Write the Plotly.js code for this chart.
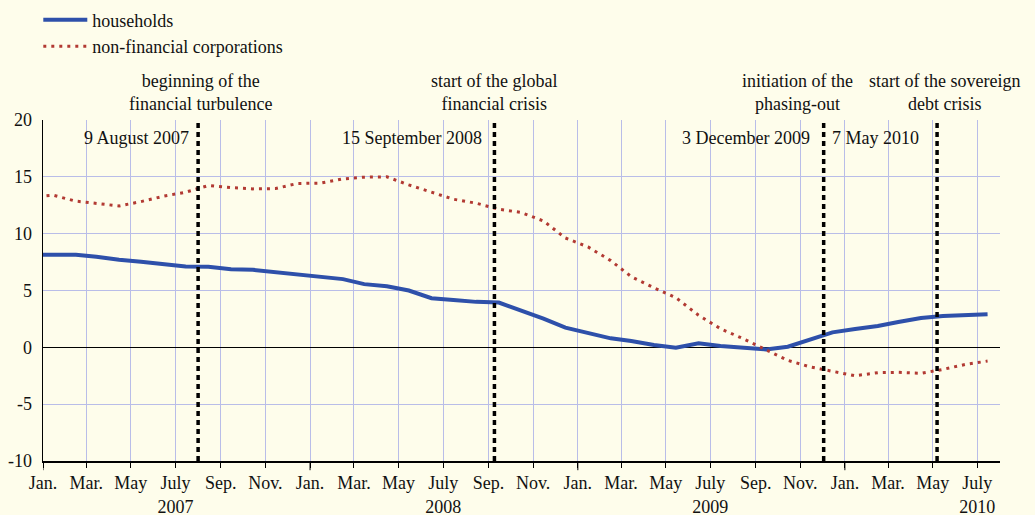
<!DOCTYPE html>
<html><head><meta charset="utf-8">
<script src="https://cdn.plot.ly/plotly-3.0.1.min.js"></script>
<style>html,body{margin:0;padding:0;background:#FEFDEB;}</style>
</head><body><div id="chart" style="width:1035px;height:515px;"></div>
<script>
// monthly observations (plotted at mid-month)
const months = ['2006-12-15',
 '2007-01-15','2007-02-15','2007-03-15','2007-04-15','2007-05-15','2007-06-15','2007-07-15','2007-08-15','2007-09-15','2007-10-15','2007-11-15','2007-12-15',
 '2008-01-15','2008-02-15','2008-03-15','2008-04-15','2008-05-15','2008-06-15','2008-07-15','2008-08-15','2008-09-15','2008-10-15','2008-11-15','2008-12-15',
 '2009-01-15','2009-02-15','2009-03-15','2009-04-15','2009-05-15','2009-06-15','2009-07-15','2009-08-15','2009-09-15','2009-10-15','2009-11-15','2009-12-15',
 '2010-01-15','2010-02-15','2010-03-15','2010-04-15','2010-05-15','2010-06-15','2010-07-15'];
const households = [8.15,
 8.15,8.15,7.97,7.70,7.53,7.29,7.11,7.08,6.88,6.82,6.62,6.38,
 6.18,6.00,5.56,5.38,5.00,4.32,4.17,4.00,3.94,3.25,2.52,1.73,
 1.29,0.79,0.55,0.20,-0.03,0.35,0.11,-0.03,-0.18,0.05,0.70,1.32,
 1.61,1.88,2.23,2.58,2.76,2.87,2.90];
const nonFinancialCorporations = [13.2,
 13.38,12.86,12.65,12.44,12.82,13.30,13.65,14.23,14.05,13.94,13.97,14.42,
 14.44,14.82,14.97,15.00,14.29,13.67,13.03,12.68,12.15,11.87,11.12,9.62,
 8.83,7.63,6.22,5.24,4.37,2.82,1.64,0.76,-0.18,-1.15,-1.73,-2.12,
 -2.50,-2.23,-2.20,-2.29,-1.94,-1.50,-1.21];

const tickVals = ['2007-01-01','2007-03-01','2007-05-01','2007-07-01','2007-09-01','2007-11-01',
 '2008-01-01','2008-03-01','2008-05-01','2008-07-01','2008-09-01','2008-11-01',
 '2009-01-01','2009-03-01','2009-05-01','2009-07-01','2009-09-01','2009-11-01',
 '2010-01-01','2010-03-01','2010-05-01','2010-07-01'];
const tickText = ['Jan.','Mar.','May','July<br>2007','Sep.','Nov.',
 'Jan.','Mar.','May','July<br>2008','Sep.','Nov.',
 'Jan.','Mar.','May','July<br>2009','Sep.','Nov.',
 'Jan.','Mar.','May','July<br>2010'];
const yTickVals = [-10,-5,0,5,10,15,20];
const yTickText = ['-10','-5','0','5','10','15','20'];

const eventDates = ['2007-08-01','2008-09-09','2009-12-03','2010-05-07'];
const eventTitles = ['beginning of the<br>financial turbulence','start of the global<br>financial crisis','initiation of the<br>phasing-out','start of the sovereign<br>debt crisis'];
const eventLabels = ['9 August 2007','15 September 2008','3 December 2009','7 May 2010'];

const FONT = "'Liberation Serif', 'Times New Roman', serif";
const BG = '#FEFDEB';
const GRID = '#B9BDE8';
const titleShift = [2, 0, -26, 7];
const labelShift = [-7, -10, -12, -16];
const txtFont = {family: FONT, size: 18, color: '#111'};

const traces = [
  {x: months, y: households, name: 'households', type: 'scatter', mode: 'lines',
   line: {color: '#2E50AA', width: 4}},
  {x: months, y: nonFinancialCorporations, name: 'non-financial corporations', type: 'scatter', mode: 'lines',
   line: {color: '#B23A33', width: 3, dash: '3px,5px'}}
];

const shapes = [];
eventDates.forEach(d => shapes.push({type: 'line', xref: 'x', yref: 'paper', x0: d, x1: d, y0: 0, y1: 1,
  line: {color: '#000', width: 3.5, dash: '5px,4px'}, layer: 'above'}));
tickVals.filter(t => t.endsWith('-01-01')).forEach(t => shapes.push({type: 'line', xref: 'x', yref: 'paper',
  x0: t, x1: t, y0: 0, y1: -0.027, line: {color: '#000', width: 1}}));

const annotations = [];
eventDates.forEach((d, i) => {
  annotations.push({xref: 'x', yref: 'paper', x: d, y: 1, yshift: 28, xshift: titleShift[i],
    xanchor: 'center', yanchor: 'middle', text: eventTitles[i], showarrow: false, font: txtFont});
  annotations.push({xref: 'x', yref: 'paper', x: d, y: 1, yshift: -18, xshift: labelShift[i],
    xanchor: 'right', yanchor: 'middle', text: eventLabels[i], showarrow: false, font: txtFont});
});

const layout = {
  width: 1035, height: 515,
  margin: {l: 43, r: 35, t: 120, b: 54, autoexpand: false},
  paper_bgcolor: BG, plot_bgcolor: BG,
  font: txtFont,
  showlegend: true,
  legend: {xref: 'container', yref: 'container', x: 0.037, y: 0.997, xanchor: 'left', yanchor: 'top',
    bgcolor: 'rgba(0,0,0,0)', font: txtFont, tracegroupgap: 0, itemwidth: 44},
  xaxis: {type: 'date', range: ['2007-01-01', '2010-08-01'], tickmode: 'array', tickvals: tickVals, ticktext: tickText,
    tickangle: 0, automargin: false,
    showgrid: true, gridcolor: GRID, gridwidth: 1, showline: true, linecolor: '#000', linewidth: 1.5,
    ticks: 'outside', ticklen: 5, tickcolor: '#000', tickwidth: 1, zeroline: false, tickfont: txtFont},
  yaxis: {range: [-10, 20], tickmode: 'array', tickvals: yTickVals, ticktext: yTickText, automargin: false,
    showgrid: true, gridcolor: GRID, gridwidth: 1,
    zeroline: true, zerolinecolor: '#000', zerolinewidth: 1, showline: true, linecolor: '#000', linewidth: 1.5,
    ticks: '', ticklabelstandoff: 6, tickfont: txtFont},
  yaxis2: {range: [-10, 20], overlaying: 'y', side: 'right', anchor: 'x', tickmode: 'array', tickvals: yTickVals,
    ticktext: yTickText, automargin: false,
    showgrid: false, zeroline: false, showline: true, linecolor: '#000', linewidth: 1.5,
    ticks: '', ticklabelstandoff: 14, tickfont: txtFont},
  shapes: shapes,
  annotations: annotations
};

Plotly.newPlot('chart', traces, layout, {displayModeBar: false, staticPlot: true});
</script>
</body></html>
